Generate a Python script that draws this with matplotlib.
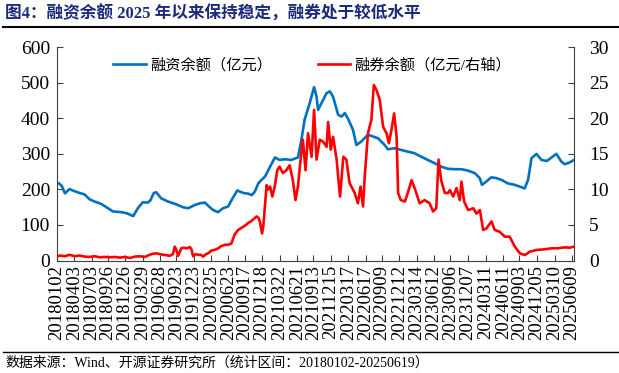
import matplotlib
matplotlib.use('Agg')
import matplotlib.pyplot as plt
import pandas as pd
from matplotlib.lines import Line2D

plt.rcParams['font.family'] = ['Liberation Serif', 'Noto Sans CJK SC']
plt.rcParams['axes.unicode_minus'] = False

tick_labels = ["20180102", "20180403", "20180703", "20180926", "20181226", "20190329",
               "20190628", "20190923", "20191223", "20200325", "20200623", "20200917",
               "20201218", "20210322", "20210621", "20210913", "20211215", "20220317",
               "20220617", "20220909", "20221212", "20230314", "20230612", "20230906",
               "20231207", "20240311", "20240611", "20240903", "20241205", "20250310",
               "20250609"]

fin_dates = ["20180102", "20180112", "20180127", "20180213", "20180309", "20180405", "20180501",
             "20180527", "20180623", "20180719", "20180824", "20180928", "20181024", "20181208",
             "20190104", "20190208", "20190304", "20190330", "20190426", "20190510", "20190527",
             "20190609", "20190705", "20190810", "20190923", "20191028", "20191124", "20191229",
             "20200125", "20200220", "20200313", "20200404", "20200430", "20200526", "20200622",
             "20200710", "20200809", "20200910", "20201006", "20201025", "20201110", "20201128",
             "20201217", "20210102", "20210129", "20210224", "20210320", "20210416", "20210521",
             "20210625", "20210713", "20210730", "20210826", "20210918", "20211001", "20211009",
             "20211027", "20211123", "20211210", "20211227", "20220123", "20220210", "20220227",
             "20220315", "20220411", "20220429", "20220525", "20220629", "20220725", "20220821",
             "20220925", "20221012", "20221117", "20221222", "20230127", "20230301", "20230406",
             "20230510", "20230615", "20230720", "20230824", "20230929", "20231103", "20231208",
             "20240113", "20240208", "20240220", "20240313", "20240409", "20240505", "20240601",
             "20240705", "20240810", "20240906", "20241002", "20241020", "20241107", "20241203",
             "20241230", "20250126", "20250221", "20250318", "20250414", "20250501", "20250527",
             "20250619"]
fin_values = [219, 217, 210, 189, 201, 195, 190, 186, 172, 166, 159, 147, 138, 136,
              133, 125, 147, 164, 163, 170, 190, 192, 175, 166, 158, 150, 147, 156,
              161, 163, 152, 142, 136, 147, 152, 170, 197, 190, 188, 184, 194, 217,
              228, 236, 264, 290, 283, 285, 283, 290, 339, 396, 443, 488, 461, 424,
              443, 471, 476, 461, 410, 405, 415, 400, 368, 325, 335, 354, 349, 344,
              325, 313, 316, 311, 306, 302, 292, 283, 274, 264, 258, 257, 257, 253,
              246, 232, 213, 222, 234, 232, 227, 217, 213, 208, 203, 227, 288, 300,
              283, 280, 290, 300, 278, 271, 276, 283]

sec_dates = ["20180102", "20180117", "20180213", "20180309", "20180405", "20180501", "20180527",
             "20180623", "20180719", "20180815", "20180911", "20181007", "20181103", "20181129",
             "20181225", "20190121", "20190217", "20190313", "20190409", "20190505", "20190521",
             "20190611", "20190627", "20190714", "20190803", "20190819", "20190905", "20190915",
             "20190923", "20191002", "20191020", "20191102", "20191116", "20191203", "20191213",
             "20191220", "20200104", "20200116", "20200130", "20200212", "20200226", "20200308",
             "20200326", "20200413", "20200430", "20200514", "20200605", "20200622", "20200709",
             "20200727", "20200814", "20200910", "20200924", "20201006", "20201020", "20201102",
             "20201119", "20201129", "20201206", "20201218", "20201225", "20210102", "20210111",
             "20210118", "20210129", "20210210", "20210224", "20210308", "20210320", "20210407",
             "20210425", "20210512", "20210529", "20210612", "20210625", "20210709", "20210721",
             "20210804", "20210817", "20210905", "20210918", "20211001", "20211018", "20211105",
             "20211123", "20211201", "20211215", "20211227", "20220115", "20220124", "20220202",
             "20220219", "20220307", "20220324", "20220420", "20220507", "20220521", "20220603",
             "20220612", "20220629", "20220717", "20220730", "20220813", "20220830", "20220917",
             "20221005", "20221017", "20221031", "20221114", "20221127", "20221205", "20221219",
             "20230110", "20230127", "20230214", "20230227", "20230311", "20230328", "20230424",
             "20230520", "20230607", "20230624", "20230706", "20230720", "20230808", "20230825",
             "20230904", "20230921", "20231009", "20231026", "20231104", "20231118", "20231209",
             "20240105", "20240122", "20240209", "20240226", "20240314", "20240410", "20240427",
             "20240523", "20240619", "20240715", "20240811", "20240907", "20241003", "20241029",
             "20241204", "20250117", "20250222", "20250326", "20250501", "20250527", "20250619"]
sec_values = [0.55, 0.7, 0.6, 0.8, 0.6, 0.7, 0.55, 0.5, 0.6, 0.45, 0.5, 0.45, 0.5, 0.4,
              0.5, 0.35, 0.55, 0.6, 0.5, 0.8, 0.95, 1.0, 0.9, 0.8, 0.75, 0.65, 0.9, 1.95,
              1.5, 0.65, 1.75, 1.8, 1.7, 1.9, 1.5, 0.6, 0.9, 0.8, 0.8, 0.55, 0.9, 1.0,
              1.4, 1.5, 1.7, 2.0, 2.2, 2.2, 2.4, 3.7, 4.3, 4.76, 5.0, 5.3, 5.5, 5.8,
              6.2, 6.0, 5.5, 3.8, 5.0, 7.6, 10.6, 10.0, 10.4, 9.0, 10.6, 12.7, 13.2, 12.3,
              12.7, 13.4, 11.3, 8.5, 10.4, 14.2, 17.0, 12.7, 17.9, 14.6, 21.2, 14.2, 17.0, 16.7,
              16.0, 19.5, 15.6, 17.4, 14.2, 11.5, 9.0, 14.6, 14.2, 10.9, 9.5, 8.05, 10.4, 7.6,
              11.8, 17.9, 19.8, 24.7, 24.0, 22.6, 18.8, 17.9, 16.5, 18.4, 20.7, 17.4, 9.5, 8.5,
              8.3, 9.7, 11.3, 10.4, 9.5, 8.05, 8.5, 8.05, 6.9, 7.35, 14.2, 11.3, 9.5, 9.5,
              9.9, 9.0, 10.2, 8.5, 11.1, 8.3, 7.1, 7.35, 6.6, 7.1, 4.3, 4.5, 5.5, 4.3,
              4.05, 3.35, 3.35, 1.95, 1.0, 0.77, 1.24, 1.48, 1.58, 1.72, 1.72, 1.85, 1.8, 1.95]

fin_label = "融资余额（亿元）"
sec_label = "融券余额（亿元/右轴）"
title = "图4：融资余额 2025 年以来保持稳定，融券处于较低水平"
footer = "数据来源：Wind、开源证券研究所（统计区间：20180102-20250619）"

W, H = 619, 373
fig = plt.figure(figsize=(W / 100, H / 100), dpi=100)
ax = fig.add_axes([57 / W, 1 - 260.5 / H, (574 - 57) / W, (260.5 - 47.3) / H])
ax2 = ax.twinx()

l1, = ax.plot(pd.to_datetime(fin_dates), fin_values, color='#0070C0', lw=1.9)
l2, = ax2.plot(pd.to_datetime(sec_dates), sec_values, color='#FF0000', lw=1.9)

ax.set_xlim(pd.Timestamp('2018-01-02'), pd.Timestamp('2025-06-19'))
ax.set_ylim(0, 600)
ax.set_yticks(range(0, 601, 100))
ax2.set_ylim(0, 30)
ax2.set_yticks(range(0, 31, 5))
ax.set_xticks(pd.to_datetime(tick_labels))
ax.set_xticklabels(tick_labels, rotation=90)

spine_c = '#404040'
for a in (ax, ax2):
    a.spines['top'].set_visible(False)
ax.spines['right'].set_visible(False)
ax2.spines['left'].set_visible(False)
ax2.spines['bottom'].set_visible(False)
for s in ('left', 'bottom'):
    ax.spines[s].set_color(spine_c)
ax2.spines['right'].set_color(spine_c)

ax.tick_params(axis='y', direction='in', length=4, width=0.8, color=spine_c, pad=5, labelsize=14)
ax.tick_params(axis='x', direction='in', length=4, width=0.8, color=spine_c, pad=3, labelsize=13.5)
ax2.tick_params(axis='y', direction='in', length=4, width=0.8, color=spine_c, pad=11, labelsize=14)

ax2.legend([l1, l2], [fin_label, sec_label], ncol=2, frameon=False, loc='center',
           bbox_to_anchor=(0.494, 0.917), fontsize=11, handlelength=2.1,
           handletextpad=0.3, columnspacing=3.0, borderpad=0, borderaxespad=0)

fig.text(5 / W, 1 - 14 / H, title, fontsize=12, fontweight='bold', color='#1B2A7A',
         ha='left', va='center')
fig.add_artist(Line2D([3 / W, 1], [1 - 27 / H] * 2, color='black', lw=1.5,
                      transform=fig.transFigure))
fig.add_artist(Line2D([3 / W, 1], [1 - 352 / H] * 2, color='black', lw=1.0,
                      transform=fig.transFigure))
fig.text(5 / W, 1 - 363 / H, footer, fontsize=10, color='black', ha='left', va='center')

fig.savefig('out.png', dpi=100)
